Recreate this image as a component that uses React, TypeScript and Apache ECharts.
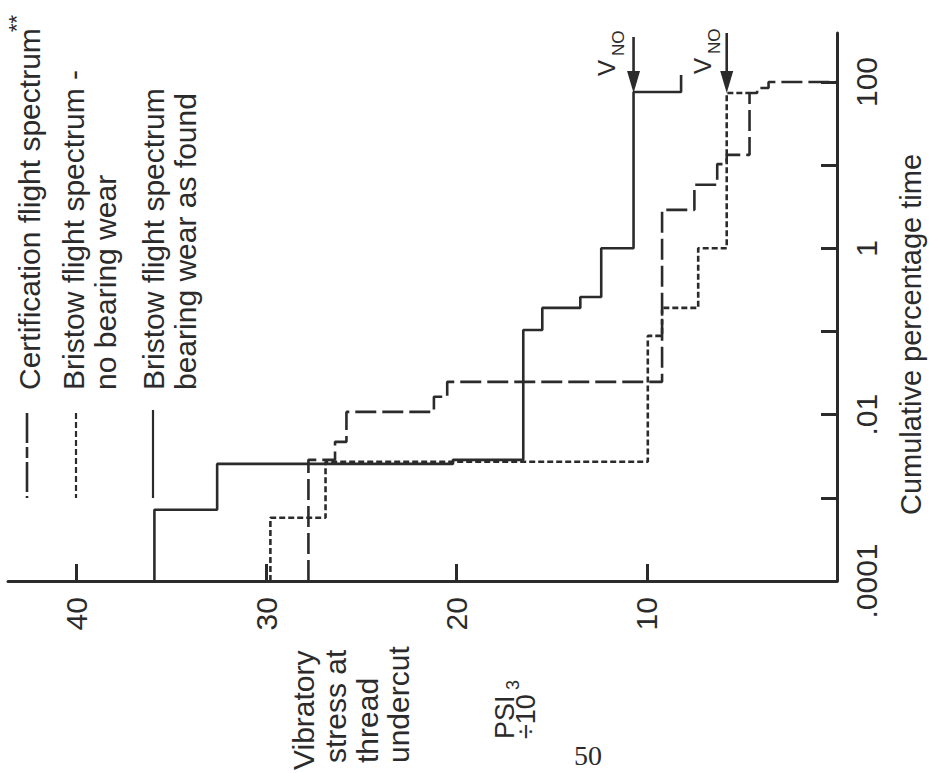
import React, { useEffect, useRef } from "react";
import * as echarts from "echarts";

// ---- axes ----
const stressTicks = [10, 20, 30, 40];
const pctTicks = [0.0001, 0.001, 0.01, 0.1, 1, 10, 100];
const pctLabelValues = [0.0001, 0.01, 1, 100];
const pctLabelText = [".0001", ".01", "1", "100"];

// ---- series: stress (psi x 10^3) where each step rises, and cumulative % reached ----
// Certification flight spectrum** (long dash)
const certStress = [27.8, 26.4, 25.8, 21.2, 20.5, 9.2, 7.5, 6.3, 5.8, 4.6, 4.2, 3.6, 0];
const certPct = [0.00286, 0.00471, 0.0108, 0.0164, 0.0248, 2.9, 5.8, 10.3, 13.3, 73.8, 84.7, 100, 100];

// Bristow flight spectrum - no bearing wear (short dash)
const noWearStress = [29.8, 26.9, 9.95, 9.2, 7.3, 5.8, 4.6];
const noWearPct = [0.000575, 0.00271, 0.0885, 0.192, 1.0, 73.8, 73.8];

// Bristow flight spectrum bearing wear as found (solid)
const wornStress = [35.9, 32.6, 20.2, 16.5, 15.5, 13.5, 12.4, 10.7, 8.2];
const wornPct = [0.00072, 0.00256, 0.00286, 0.104, 0.192, 0.26, 1.0, 75.8, 121];

// V_NO markers
const vnoStress = [10.7, 5.8];
const vnoTop = [347, 388];
const vnoTip = 100;

const FLOOR = 0.0001;
const INK = "#2b2b2b";
const FONT = '"Liberation Sans", Arial, Helvetica, sans-serif';

function steps(stress: number[], pct: number[]) {
  const pts: [number, number][] = [];
  let prev = FLOOR;
  for (let i = 0; i < stress.length; i++) {
    pts.push([stress[i], prev]);
    pts.push([stress[i], pct[i]]);
    prev = pct[i];
  }
  return pts;
}

function vtext(x: number, y: number, text: string, size = 30, extra: any = {}) {
  return {
    type: "text",
    x,
    y,
    rotation: Math.PI / 2,
    silent: true,
    style: {
      text,
      font: `${size}px ${FONT}`,
      fill: INK,
      align: "left",
      verticalAlign: "middle",
      textAlign: "left",
      textVerticalAlign: "middle",
      ...extra,
    },
  };
}

const dashCert = [21, 6];
const dashCertKey = [30, 4, 11, 4];
const dashNoWear = [6, 3];

export default function App() {
  const ref = useRef<HTMLDivElement>(null);
  useEffect(() => {
    if (!ref.current) return;
    const chart = echarts.init(ref.current, undefined, { renderer: "svg" });
    const labelFor = (v: number) => {
      const e = Math.round(Math.log10(v));
      const idx = pctLabelValues.findIndex((p) => Math.round(Math.log10(p)) === e);
      return idx >= 0 ? pctLabelText[idx] : "";
    };
    const line = (name: string, data: [number, number][], type: any) => ({
      name,
      type: "line",
      data,
      symbol: "none",
      showSymbol: false,
      silent: true,
      lineStyle: { color: INK, width: 2.6, type },
      z: 3,
    });
    const arrows = vnoStress.map((s, i) => ({
      type: "line",
      silent: true,
      symbol: "none",
      showSymbol: true,
      lineStyle: { color: INK, width: 2.6 },
      itemStyle: { color: INK },
      data: [
        { value: [s, vnoTop[i]], symbol: "none" },
        { value: [s, vnoTip], symbol: "triangle", symbolSize: [13, 22], symbolRotate: 180 },
      ],
      z: 4,
    }));

    chart.setOption({
      animation: false,
      backgroundColor: "#ffffff",
      grid: { left: 8, right: 93, top: 33, bottom: 192, containLabel: false, outerBoundsMode: "none" },
      xAxis: {
        type: "value",
        inverse: true,
        min: 0,
        max: 43.6,
        position: "bottom",
        axisLine: { show: true, onZero: false, lineStyle: { color: INK, width: 3 } },
        axisTick: { show: true, inside: true, length: 17, customValues: stressTicks, lineStyle: { color: INK, width: 3 } },
        axisLabel: {
          show: true,
          rotate: 90,
          margin: 16,
          fontSize: 30,
          fontFamily: FONT,
          color: INK,
          customValues: stressTicks,
        },
        splitLine: { show: false },
      },
      yAxis: {
        type: "log",
        logBase: 10,
        min: 0.0001,
        max: 388,
        position: "right",
        axisLine: { show: true, lineStyle: { color: INK, width: 3 } },
        axisTick: { show: true, inside: true, length: 16, customValues: pctTicks, lineStyle: { color: INK, width: 3 } },
        axisLabel: {
          show: true,
          rotate: 90,
          margin: 14,
          fontSize: 30,
          fontFamily: FONT,
          color: INK,
          customValues: pctLabelValues,
          formatter: labelFor,
        },
        splitLine: { show: false },
      },
      series: [
        line("Certification flight spectrum", steps(certStress, certPct), dashCert),
        line("Bristow flight spectrum - no bearing wear", steps(noWearStress, noWearPct), dashNoWear),
        line("Bristow flight spectrum bearing wear as found", steps(wornStress, wornPct), "solid"),
        ...arrows,
      ],
      graphic: [
        // legend keys
        { type: "line", silent: true, shape: { x1: 27, y1: 413, x2: 27, y2: 498 }, style: { stroke: INK, lineWidth: 2.6, lineDash: dashCertKey } },
        { type: "line", silent: true, shape: { x1: 76, y1: 413, x2: 76, y2: 498 }, style: { stroke: INK, lineWidth: 2.2, lineDash: dashNoWear } },
        { type: "line", silent: true, shape: { x1: 153, y1: 410, x2: 153, y2: 498 }, style: { stroke: INK, lineWidth: 2.2 } },
        // legend texts
        vtext(29, 390, "Certification flight spectrum"),
        vtext(16, 32, "**", 22),
        vtext(73, 390, "Bristow flight spectrum -"),
        vtext(105, 390, "no bearing wear"),
        vtext(153, 390, "Bristow flight spectrum"),
        vtext(185, 390, "bearing wear as found"),
        // x-axis title
        vtext(303, 770, "Vibratory"),
        vtext(335, 763, "stress at"),
        vtext(367, 763, "thread"),
        vtext(398, 763, "undercut"),
        vtext(505, 739, "PSI", 27),
        vtext(526, 739, "÷10", 27),
        vtext(513, 690, "3", 18),
        // y-axis title
        vtext(911, 515, "Cumulative percentage time", 29),
        // V_NO labels
        vtext(606, 76, "V", 24),
        vtext(618, 56, "NO", 17),
        vtext(702, 74, "V", 24),
        vtext(714, 54, "NO", 17),
        // page number
        {
          type: "text",
          x: 588,
          y: 755,
          silent: true,
          style: {
            text: "50",
            font: '28px "Liberation Serif", "Times New Roman", serif',
            fill: INK,
            align: "center",
            verticalAlign: "middle",
            textAlign: "center",
            textVerticalAlign: "middle",
          },
        },
      ],
    });
    return () => chart.dispose();
  }, []);
  return (
    <div
      ref={ref}
      style={{ position: "fixed", left: 0, top: 0, width: 930, height: 773, background: "#fff" }}
    />
  );
}
